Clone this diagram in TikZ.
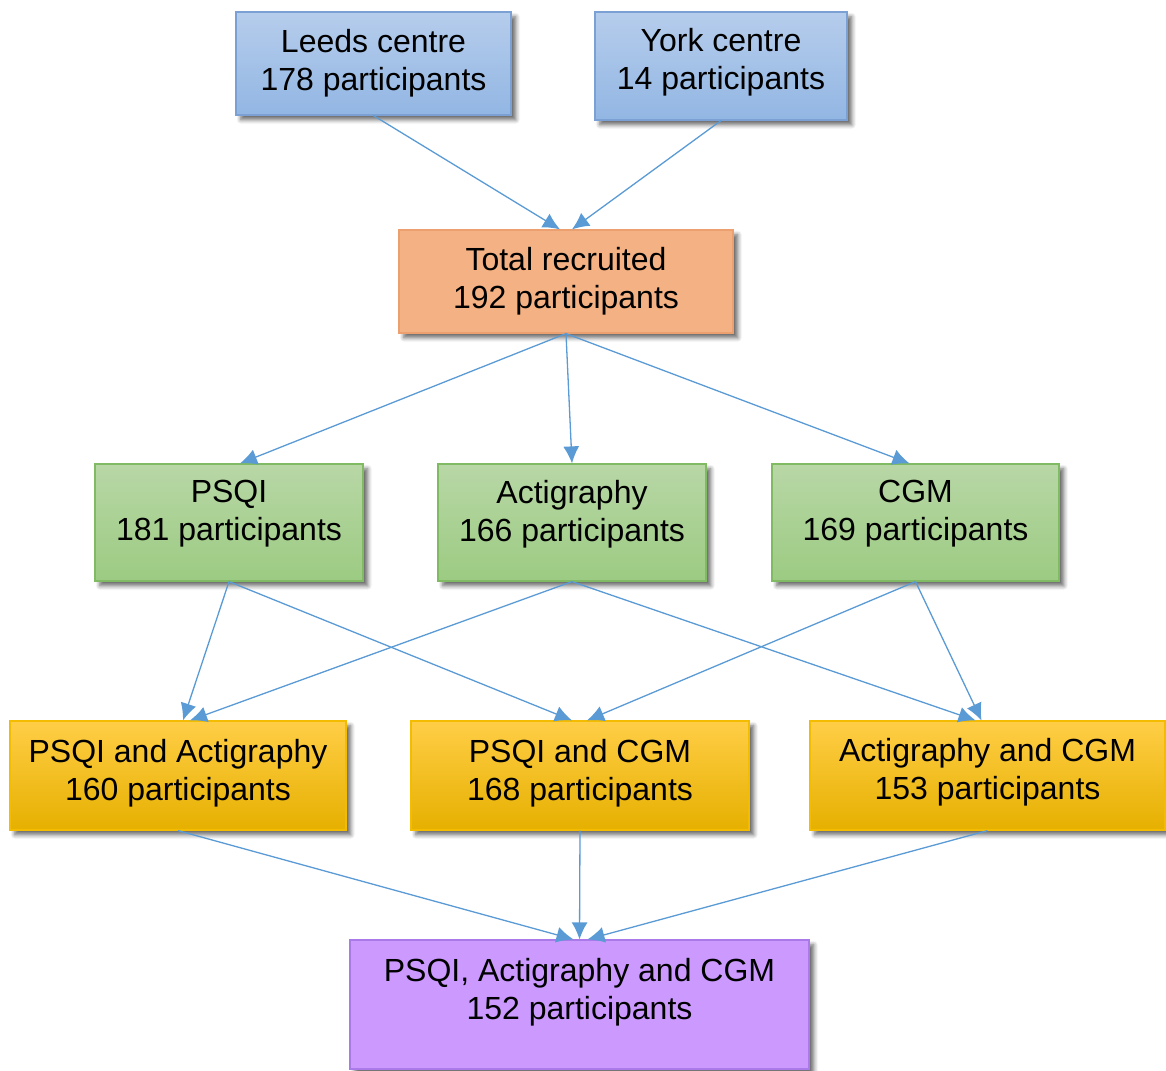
\documentclass[tikz,border=0pt]{standalone}
\usepackage{fontspec}
\setmainfont{Liberation Sans}
\usetikzlibrary{arrows.meta, positioning, shadows.blur}

\definecolor{siteline}{RGB}{122,160,212}
\definecolor{sitetop}{RGB}{182,205,236}
\definecolor{sitebot}{RGB}{146,182,227}
\definecolor{totalfill}{RGB}{244,177,131}
\definecolor{totalline}{RGB}{236,160,112}
\definecolor{measline}{RGB}{128,186,98}
\definecolor{meastop}{RGB}{184,215,166}
\definecolor{measbot}{RGB}{156,203,130}
\definecolor{pairline}{RGB}{244,188,0}
\definecolor{pairtop}{RGB}{255,206,70}
\definecolor{pairmid}{RGB}{255,194,0}
\definecolor{pairbot}{RGB}{230,176,0}
\definecolor{allfill}{RGB}{204,153,255}
\definecolor{allline}{RGB}{170,122,232}
\definecolor{flowline}{RGB}{91,155,213}

% extra depth under the last line, lifts the text inside its box
\newcommand{\padbelow}[1]{\rule[-#1]{0pt}{0pt}}

\begin{document}
\begin{tikzpicture}[x=0.5pt, y=-0.5pt, >={Latex[length=8.5pt,width=8pt]},
  font=\fontsize{16}{19}\selectfont]
  \tikzstyle{box}=[rectangle, align=center, inner sep=0pt, line width=0.6pt,
    blur shadow={shadow xshift=2.4pt, shadow yshift=-2.4pt, shadow blur steps=6, shadow opacity=60}]
  \tikzstyle{sitebox}=[box, draw=siteline, top color=sitetop, bottom color=sitebot]
  \tikzstyle{totalbox}=[box, draw=totalline, fill=totalfill]
  \tikzstyle{measurebox}=[box, draw=measline, top color=meastop, bottom color=measbot, minimum height=58.5pt]
  \tikzstyle{pairbox}=[box, draw=pairline, top color=pairtop, middle color=pairmid, bottom color=pairbot, minimum height=54.5pt]
  \tikzstyle{allbox}=[box, draw=allline, fill=allfill]
  \tikzstyle{flow}=[->, draw=flowline, fill=flowline, line width=0.65pt]

  \useasboundingbox (0,0) rectangle (1166,1070);

  % recruiting centres
  \node[sitebox, minimum width=137.5pt, minimum height=51.5pt] (leeds) at (373.5,63.5) {Leeds centre\\178 participants};
  \node[sitebox, minimum width=126pt, minimum height=54pt] (york) at (721,66) {York centre\\14 participants\padbelow{7pt}};
  \node[totalbox, minimum width=167pt, minimum height=51.5pt] (total) at (566,281.5) {Total recruited\\192 participants};

  % single measures
  \node[measurebox, minimum width=134pt] (psqi) at (229,522.5) {PSQI\\181 participants\padbelow{12pt}};
  \node[measurebox, minimum width=134pt] (acti) at (572,522.5) {Actigraphy\\166 participants\padbelow{12pt}};
  \node[measurebox, minimum width=143.5pt] (cgm) at (915.5,522.5) {CGM\\169 participants\padbelow{12pt}};

  % pairs of measures
  \node[pairbox, minimum width=168pt] (psqiacti) at (178,775.5) {PSQI and Actigraphy\\160 participants\padbelow{6pt}};
  \node[pairbox, minimum width=169pt] (psqicgm) at (580,775.5) {PSQI and CGM\\168 participants\padbelow{6pt}};
  \node[pairbox, minimum width=177.5pt] (acticgm) at (987.5,775.5) {Actigraphy and CGM\\153 participants\padbelow{7pt}};

  % all three
  \node[allbox, minimum width=229.5pt, minimum height=64.5pt] (all) at (579.5,1004.5) {};
  \node[align=center, anchor=north] (alltext) at ([yshift=-6pt]all.north) {PSQI, Actigraphy and CGM\\152 participants};

  \draw[flow] (leeds.south) -- ([xshift=-3pt]total.north);
  \draw[flow] (york.south) -- ([xshift=3pt]total.north);

  \draw[flow] (total.south) -- ([xshift=5.5pt]psqi.north);
  \draw[flow] (total.south) -- (acti.north);
  \draw[flow] (total.south) -- ([xshift=-3pt]cgm.north);

  \draw[flow] (psqi.south) -- ([xshift=2.5pt]psqiacti.north);
  \draw[flow] (psqi.south) -- ([xshift=-4pt]psqicgm.north);
  \draw[flow] (acti.south) -- ([xshift=6pt]psqiacti.north);
  \draw[flow] (acti.south) -- ([xshift=-6pt]acticgm.north);
  \draw[flow] (cgm.south) -- ([xshift=3.5pt]psqicgm.north);
  \draw[flow] (cgm.south) -- ([xshift=-3pt]acticgm.north);

  \draw[flow] (psqiacti.south) -- ([xshift=-3pt]all.north);
  \draw[flow] (psqicgm.south) -- (all.north);
  \draw[flow] (acticgm.south) -- ([xshift=4pt]all.north);
\end{tikzpicture}
\end{document}
